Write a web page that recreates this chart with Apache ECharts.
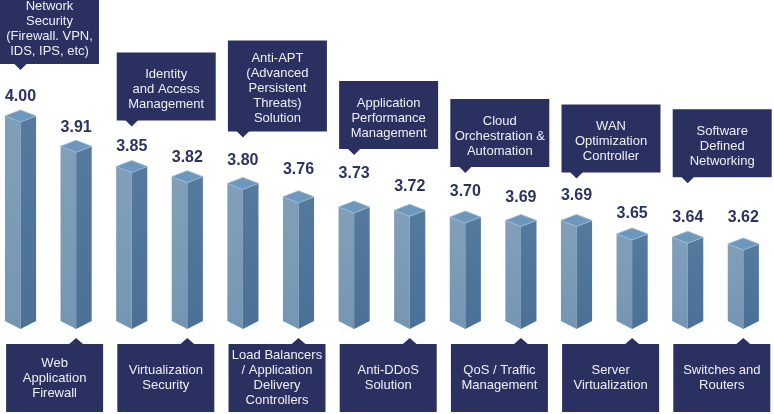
<!DOCTYPE html>
<html>
<head>
<meta charset="utf-8">
<script src="https://cdn.jsdelivr.net/npm/echarts@6/dist/echarts.min.js"></script>
<style>
html, body { margin: 0; padding: 0; background: #fff; }
#main { width: 774px; height: 414px; }
</style>
</head>
<body>
<div id="main"></div>
<script>
// categories, one line break per row of the callout box
var categories = [
    'Network\nSecurity\n(Firewall. VPN,\nIDS, IPS, etc)',
    'Web\nApplication\nFirewall',
    'Identity\nand Access\nManagement',
    'Virtualization\nSecurity',
    'Anti-APT\n(Advanced\nPersistent\nThreats)\nSolution',
    'Load Balancers\n/ Application\nDelivery\nControllers',
    'Application\nPerformance\nManagement',
    'Anti-DDoS\nSolution',
    'Cloud\nOrchestration &\nAutomation',
    'QoS / Traffic\nManagement',
    'WAN\nOptimization\nController',
    'Server\nVirtualization',
    'Software\nDefined\nNetworking',
    'Switches and\nRouters'
];
var scores = [4.00, 3.91, 3.85, 3.82, 3.80, 3.76, 3.73, 3.72, 3.70, 3.69, 3.69, 3.65, 3.64, 3.62];

// layout only: how far the value label / top callout sit above each bar
var labelLift = [13, 13, 14, 13, 17, 21, 27, 18, 19, 17, 19, 14, 14, 20];
var calloutGap = [40, 0, 34, 0, 40, 0, 46, 0, 38, 0, 36, 0, 48, 0];

var navy = '#2a305f';
var font = '"Liberation Sans", Arial, sans-serif';

var chart = echarts.init(document.getElementById('main'));

function renderBar(params, api) {
    var i = params.dataIndex;
    var top = api.coord([api.value(0), api.value(1)]);
    var x = top[0], yt = top[1];
    var yb = api.coord([api.value(0), 3.35])[1];
    var w = api.size([1, 0])[0] * 0.28;
    return {
        type: 'group',
        children: [
            {
                type: 'polygon',
                shape: { points: [[x - w, yt + 6], [x, yt + 12], [x, yb], [x - w, yb - 8]] },
                style: { fill: new echarts.graphic.LinearGradient(0, 0, 0, 1, [
                    { offset: 0, color: '#819fba' }, { offset: 1, color: '#7596b3' }]) }
            },
            {
                type: 'polygon',
                shape: { points: [[x, yt + 12], [x + w, yt + 6], [x + w, yb - 8], [x, yb]] },
                style: { fill: new echarts.graphic.LinearGradient(0, 0, 0, 1, [
                    { offset: 0, color: '#557a9e' }, { offset: 1, color: '#4c7096' }]) }
            },
            {
                type: 'polygon',
                shape: { points: [[x, yt], [x + w, yt + 6], [x, yt + 12], [x - w, yt + 6]] },
                style: { fill: '#6e97bd', stroke: '#9cbad6', lineWidth: 0.8 }
            },
            {
                type: 'text',
                style: {
                    text: scores[i].toFixed(2),
                    x: x, y: yt - labelLift[i],
                    align: 'center', verticalAlign: 'middle',
                    fill: '#2c3263',
                    font: 'bold 16px ' + font
                }
            }
        ]
    };
}

function renderCallout(params, api) {
    var i = params.dataIndex;
    var top = api.coord([api.value(0), api.value(1)]);
    var x = top[0], yt = top[1];
    var yb = api.coord([api.value(0), 3.35])[1];
    var text = categories[i];
    var lines = text.split('\n').length;
    var bx, by, bw, bh, tri, ty;
    if (i % 2 === 0) {
        var tip = yt - calloutGap[i];
        bh = Math.max(68, lines * 15 + 16);
        by = tip - 6 - bh;
        bx = i === 0 ? 0 : x - 15;
        bw = 99;
        ty = by + bh / 2 + 3;
        tri = [[x - 7, tip - 7], [x, tip], [x + 7, tip - 7]];
    } else {
        by = yb + 15;
        bh = 68;
        bx = x - 70;
        bw = 97;
        ty = by + bh / 2;
        tri = [[x - 8, by + 1], [x, by - 6], [x + 8, by + 1]];
    }
    return {
        type: 'group',
        children: [
            { type: 'rect', shape: { x: bx, y: by, width: bw, height: bh }, style: { fill: navy } },
            { type: 'polygon', shape: { points: tri }, style: { fill: navy } },
            {
                type: 'text',
                style: {
                    text: text,
                    x: bx + bw / 2, y: ty,
                    align: 'center', verticalAlign: 'middle',
                    fill: '#eef0f6',
                    font: '13px ' + font,
                    lineHeight: 15
                }
            }
        ]
    };
}

var seriesData = scores.map(function (v, i) { return [i, v]; });

var option = {
    animation: false,
    grid: { left: 0, right: 0, top: 110, bottom: 85 },
    // value x axis so the first bar can sit near the left edge
    xAxis: { type: 'value', min: -0.369, max: 13.552, show: false },
    yAxis: { type: 'value', min: 3.35, max: 4.0, show: false },
    series: [
        { name: 'bars', type: 'custom', renderItem: renderBar, data: seriesData, clip: false },
        { name: 'callouts', type: 'custom', renderItem: renderCallout, data: seriesData, clip: false }
    ]
};
chart.setOption(option);
</script>
</body>
</html>
